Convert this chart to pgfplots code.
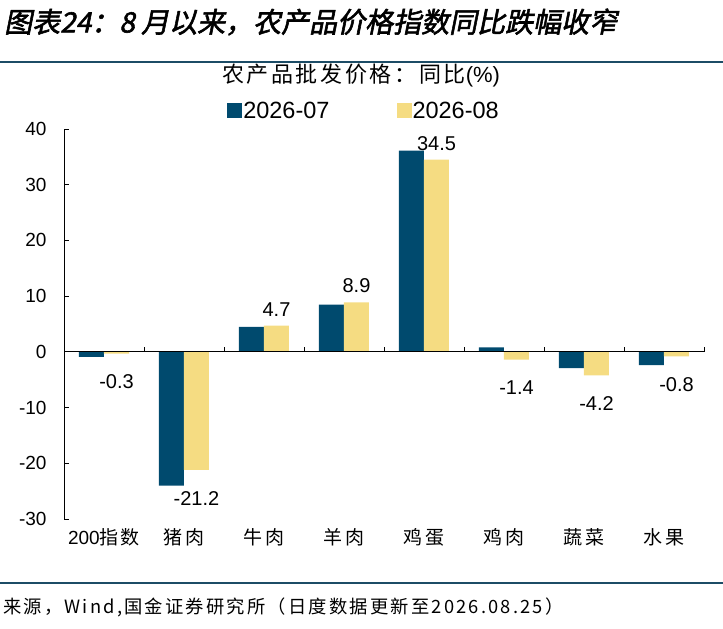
\documentclass[border=0pt]{standalone}
\usepackage{pgfplots}
\pgfplotsset{compat=1.18}
\usepackage{fontspec}
\setmainfont{Liberation Sans}
\newfontfamily\cjk{Noto Sans CJK SC}
\newfontfamily\cjksp[LetterSpace=12]{Noto Sans CJK SC}
\newfontfamily\cjktitle[FakeSlant=0.2,FakeBold=2]{Noto Sans CJK SC}
\definecolor{cA}{HTML}{004A6E}
\definecolor{cB}{HTML}{F5DC82}
\definecolor{rulec}{HTML}{1C4C66}
\begin{document}
\begin{tikzpicture}[x=1pt,y=1pt]
\path[use as bounding box] (0,0) rectangle (723,629);
\node[anchor=west,inner sep=0] at (4,629-22) {\cjktitle\fontsize{28}{28}\selectfont 图表24：8 月以来，农产品价格指数同比跌幅收窄};
\draw[rulec,line width=1.5pt] (0,629-62) -- (723,629-62);
\draw[rulec,line width=1.5pt] (0,629-583) -- (723,629-583);
\node[anchor=west,inner sep=0] at (3,629-607) {\cjksp\fontsize{18.3}{18.3}\selectfont 来源，Wind,国金证券研究所（日度数据更新至2026.08.25）};
\node[inner sep=0] at (361,629-76) {\fontsize{22}{22}\selectfont{\cjksp 农产品批发价格：同比}(\%)};
\begin{axis}[
  at={(64pt,110pt)}, anchor=south west, scale only axis,
  width=640pt, height=390pt,
  xmin=-0.5, xmax=7.5, ymin=-30, ymax=40,
  ybar=0pt, bar width=25pt,
  axis y line=left, axis x line=bottom,
  axis line style={-, line width=0.8pt},
  x axis line style={draw=none},
  xtick={0,...,7},
  xticklabels={200{\cjksp 指数},{\cjksp 猪肉},{\cjksp 牛肉},{\cjksp 羊肉},{\cjksp 鸡蛋},{\cjksp 鸡肉},{\cjksp 蔬菜},{\cjksp 水果}},
  x tick style={draw=none},
  x tick label style={font=\fontsize{19}{19}\selectfont, yshift=-6pt},
  ytick={-30,-20,...,40},
  y tick label style={font=\fontsize{19}{19}\selectfont, xshift=-14pt},
  tick align=inside, major tick length=5pt,
  y tick style={line width=0.8pt, black},
  /pgf/number format/assume math mode=true,
  clip=false,
  legend style={at={(axis description cs:0.468,1)}, anchor=south, yshift=5pt, draw=none,
    legend columns=2, font=\fontsize{23.5}{23.5}\selectfont,
    nodes={inner xsep=1pt},
    /tikz/every even column/.append style={column sep=66pt}},
  legend image code/.code={\fill[#1] (0pt,-7pt) rectangle (15pt,8pt);},
]
\addplot[fill=cA, draw=none] coordinates {(0,-0.9) (1,-24.0) (2,4.5) (3,8.5) (4,36.1) (5,0.8) (6,-2.9) (7,-2.4)};
\addplot[fill=cB, draw=none, nodes near coords,
  every node near coord/.append style={font=\fontsize{20}{20}\selectfont, black, inner ysep=15pt, yshift=-6pt}] coordinates {(0,-0.3) (1,-21.2) (2,4.7) (3,8.9) (4,34.5) (5,-1.4) (6,-4.2) (7,-0.8)};
\legend{2026-07,2026-08}
\draw[black, line width=0.8pt] (axis cs:-0.5,0) -- (axis cs:7.5,0);
\draw[black, line width=0.8pt] (axis cs:0.5,0) -- ([yshift=5pt]axis cs:0.5,0);
\draw[black, line width=0.8pt] (axis cs:1.5,0) -- ([yshift=5pt]axis cs:1.5,0);
\draw[black, line width=0.8pt] (axis cs:2.5,0) -- ([yshift=5pt]axis cs:2.5,0);
\draw[black, line width=0.8pt] (axis cs:3.5,0) -- ([yshift=5pt]axis cs:3.5,0);
\draw[black, line width=0.8pt] (axis cs:4.5,0) -- ([yshift=5pt]axis cs:4.5,0);
\draw[black, line width=0.8pt] (axis cs:5.5,0) -- ([yshift=5pt]axis cs:5.5,0);
\draw[black, line width=0.8pt] (axis cs:6.5,0) -- ([yshift=5pt]axis cs:6.5,0);
\draw[black, line width=0.8pt] (axis cs:7.5,0) -- ([yshift=5pt]axis cs:7.5,0);
\end{axis}
\end{tikzpicture}
\end{document}
